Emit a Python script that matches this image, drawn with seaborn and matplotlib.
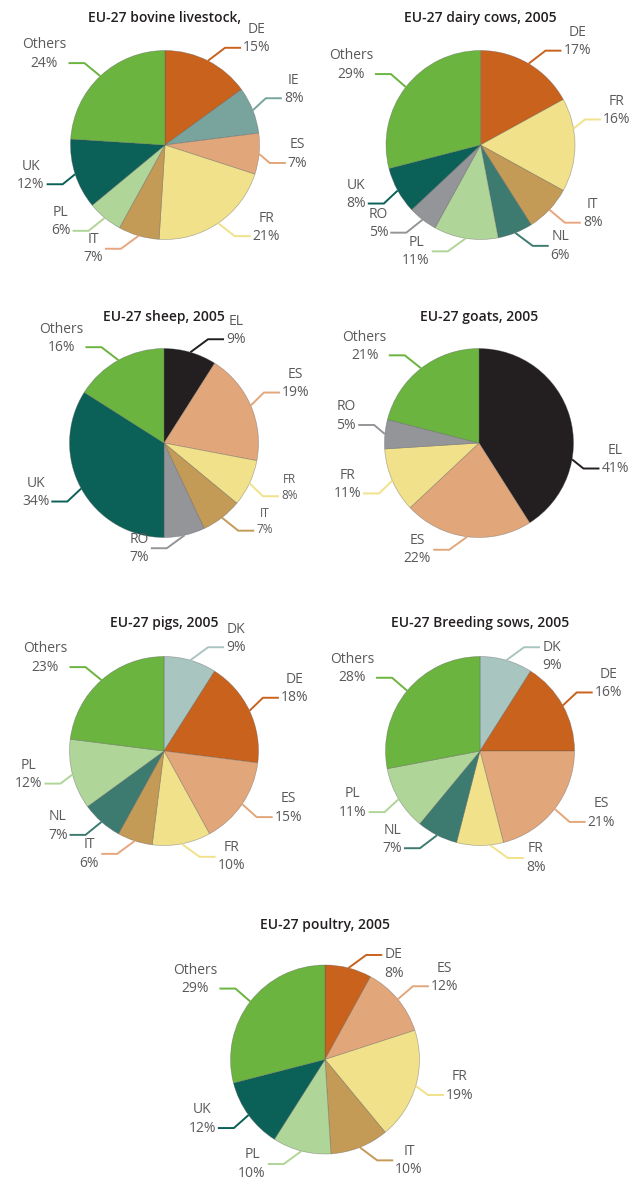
import numpy as np
import matplotlib
matplotlib.use("Agg")
import matplotlib.pyplot as plt
import seaborn as sns

# ---- data -------------------------------------------------------------
BOVINE_TITLE = "EU-27 bovine livestock,"
BOVINE_LABELS = ["DE", "IE", "ES", "FR", "IT", "PL", "UK", "Others"]
BOVINE_SHARES = [15, 8, 7, 21, 7, 6, 12, 24]

DAIRY_TITLE = "EU-27 dairy cows, 2005"
DAIRY_LABELS = ["DE", "FR", "IT", "NL", "PL", "RO", "UK", "Others"]
DAIRY_SHARES = [17, 16, 8, 6, 11, 5, 8, 29]

SHEEP_TITLE = "EU-27 sheep, 2005"
SHEEP_LABELS = ["EL", "ES", "FR", "IT", "RO", "UK", "Others"]
SHEEP_SHARES = [9, 19, 8, 7, 7, 34, 16]

GOATS_TITLE = "EU-27 goats, 2005"
GOATS_LABELS = ["EL", "ES", "FR", "RO", "Others"]
GOATS_SHARES = [41, 22, 11, 5, 21]

PIGS_TITLE = "EU-27 pigs, 2005"
PIGS_LABELS = ["DK", "DE", "ES", "FR", "IT", "NL", "PL", "Others"]
PIGS_SHARES = [9, 18, 15, 10, 6, 7, 12, 23]

SOWS_TITLE = "EU-27 Breeding sows, 2005"
SOWS_LABELS = ["DK", "DE", "ES", "FR", "NL", "PL", "Others"]
SOWS_SHARES = [9, 16, 21, 8, 7, 11, 28]

POULTRY_TITLE = "EU-27 poultry, 2005"
POULTRY_LABELS = ["DE", "ES", "FR", "IT", "PL", "UK", "Others"]
POULTRY_SHARES = [8, 12, 19, 10, 10, 12, 29]

# ---- style ------------------------------------------------------------
COUNTRY_COLORS = {
    "DE": "#C8621D",
    "IE": "#78A49D",
    "ES": "#E2A67B",
    "FR": "#F0E18A",
    "IT": "#C49A57",
    "PL": "#B0D598",
    "UK": "#0B6157",
    "Others": "#6AB43F",
    "NL": "#3D7B71",
    "RO": "#939598",
    "EL": "#231F20",
    "DK": "#A8C5C0",
}
SALMON = "#E8A67E"
LABEL_COLOR = "#5A5A5C"
TITLE_COLOR = "#231F20"

sns.set_theme(style="white")
plt.rcParams["font.family"] = ["Open Sans", "DejaVu Sans"]

W, H, DPI = 634, 1187, 100
R_PX = 94.5          # pie radius in pixels
BOX = 320            # side of each panel's axes in pixels

fig = plt.figure(figsize=(W / DPI, H / DPI), dpi=DPI)
fig.patch.set_facecolor("white")


def px(v):
    """Pixels -> data units (pie radius = 1)."""
    return v / R_PX


def draw_panel(cx, cy, title, labels, shares, title_gap=127, tweaks=None):
    tweaks = tweaks or {}
    ax = fig.add_axes([(cx - BOX / 2) / W, 1 - (cy + BOX / 2) / H, BOX / W, BOX / H])
    wedges, _ = ax.pie(
        shares,
        colors=sns.color_palette([COUNTRY_COLORS[k] for k in labels]),
        startangle=90,
        counterclock=False,
        radius=1.0,
        wedgeprops=dict(linewidth=0.5, edgecolor=(0.35, 0.35, 0.35, 0.45)),
    )
    lim = BOX / 2 / R_PX
    ax.set_xlim(-lim, lim)
    ax.set_ylim(-lim, lim)
    ax.set_aspect("equal")
    ax.axis("off")

    for w, lab, val in zip(wedges, labels, shares):
        tw = tweaks.get(lab, {})
        if "angle" in tw:  # clockwise from 12 o'clock
            mid = np.deg2rad(90 - tw["angle"])
        else:
            mid = np.deg2rad((w.theta1 + w.theta2) / 2)
        x0, y0 = np.cos(mid), np.sin(mid)
        side = tw.get("side", 1 if x0 >= 0 else -1)
        # leader: short diagonal out of the rim, then a horizontal run
        lift = 13 * np.sign(y0) * np.clip(2.5 * abs(y0), 0.7, 1.0)
        run_out = 10 + 8 * abs(y0)
        x1, y1 = x0 + side * px(run_out), y0 + px(lift)
        x2 = x1 + side * px(16)
        line_color = tw.get("line", COUNTRY_COLORS[lab])
        ax.plot([x0, x1, x2], [y0, y1, y1], color=line_color, lw=1.4,
                solid_capstyle="butt", solid_joinstyle="miter", clip_on=False)

        clock = (90 - np.rad2deg(mid)) % 360
        if tw.get("anchor") == "name":
            ty = y1 - px(9)
        elif abs(clock - 180) < 25:
            ty = y1
        else:
            ty = y1 + px(9)
        ax.text(x2 + side * px(2), ty, f"{lab}\n{val}%",
                ha="left" if side > 0 else "right", va="center",
                multialignment="center", linespacing=1.3,
                fontsize=tw.get("size", 10), color=LABEL_COLOR)

    ax.text(0, px(title_gap), title, ha="center", va="center",
            fontsize=10, fontweight="semibold", color=TITLE_COLOR)


draw_panel(165, 145, BOVINE_TITLE, BOVINE_LABELS, BOVINE_SHARES,
           tweaks={"IT": {"line": SALMON}})
draw_panel(480.5, 145, DAIRY_TITLE, DAIRY_LABELS, DAIRY_SHARES,
           tweaks={"IT": {"line": SALMON}, "FR": {"angle": 80}})
draw_panel(164, 443, SHEEP_TITLE, SHEEP_LABELS, SHEEP_SHARES, title_gap=126,
           tweaks={"FR": {"size": 8.5}, "IT": {"size": 8.5}, "RO": {"side": -1}})
draw_panel(479, 443, GOATS_TITLE, GOATS_LABELS, GOATS_SHARES, title_gap=126,
           tweaks={"EL": {"angle": 100}})
draw_panel(164, 751, PIGS_TITLE, PIGS_LABELS, PIGS_SHARES, title_gap=128,
           tweaks={"IT": {"line": SALMON}})
draw_panel(480, 751, SOWS_TITLE, SOWS_LABELS, SOWS_SHARES, title_gap=128,
           tweaks={"DK": {"anchor": "name"}, "FR": {"angle": 174, "side": 1}})
draw_panel(325, 1059.5, POULTRY_TITLE, POULTRY_LABELS, POULTRY_SHARES, title_gap=134,
           tweaks={"DE": {"anchor": "name"}})

fig.savefig("out.png", dpi=DPI, facecolor="white")
